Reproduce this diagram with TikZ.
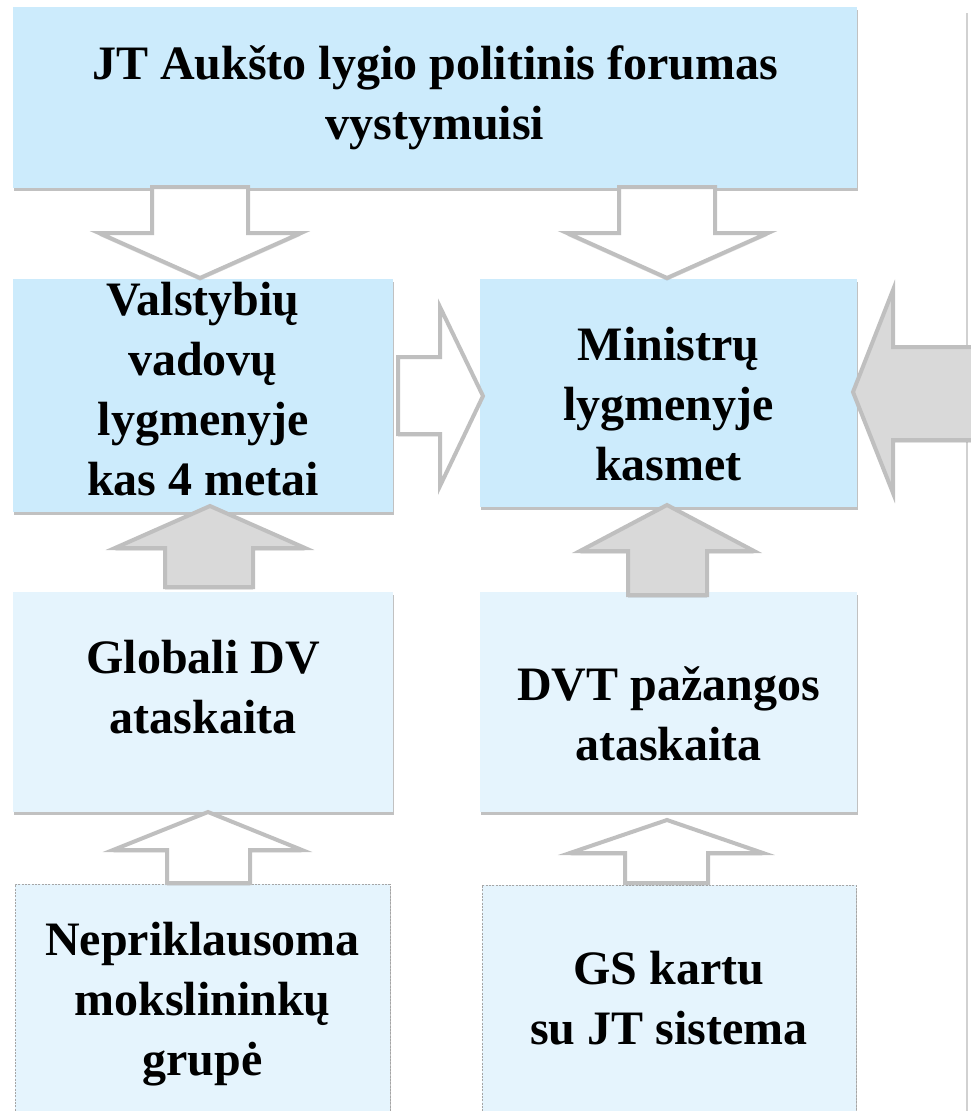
\documentclass[tikz,border=0pt]{standalone}
\usepackage{fontspec}
\setmainfont{Liberation Serif}
\usetikzlibrary{shadows}
\definecolor{boxA}{HTML}{CCEBFC}
\definecolor{boxB}{HTML}{E5F4FD}
\definecolor{arrline}{RGB}{191,191,191}
\definecolor{arrfill}{RGB}{217,217,217}
\tikzset{
  boxsize/.style 2 args={minimum width=#1*0.75pt, minimum height=#2*0.75pt},
  txt/.style={inner sep=0pt, align=center, font=\fontsize{36}{45}\selectfont\bfseries},
  boxbase/.style={inner sep=0pt,
    drop shadow={shadow xshift=0.5pt, shadow yshift=-2.5pt, opacity=0.35, fill=black!70}},
  darkbox/.style={boxbase, fill=boxA},
  lightbox/.style={boxbase, fill=boxB},
  dashbox/.style={boxbase, fill=boxB, draw=black!35, line width=0.5pt, dash pattern=on 1.5pt off 1pt},
  hollowarr/.style={draw=arrline, fill=white, line width=3pt, line join=miter,
    drop shadow={shadow xshift=0pt, shadow yshift=-2pt, opacity=0.2, fill=black!60}},
  filledarr/.style={draw=arrline, fill=arrfill, line width=3pt, line join=miter,
    drop shadow={shadow xshift=0pt, shadow yshift=-2pt, opacity=0.25, fill=black!60}},
}
\begin{document}
\begin{tikzpicture}[x=0.75pt,y=-0.75pt]
\useasboundingbox (0,0) rectangle (971,1111);
% right-hand panel (partly visible)
\fill[white, drop shadow={shadow xshift=-1.5pt, shadow yshift=-1pt, opacity=0.3, fill=black!60}] (968,12) rectangle (1010,1140);

% boxes
\node[darkbox, boxsize={844}{181}, label={[txt, yshift=0pt]center:{JT Aukšto lygio politinis forumas\\vystymuisi}}] (top) at (435,97.5) {};
\node[darkbox, boxsize={380}{233}, label={[txt, yshift=5pt]center:{Valstybių\\vadovų\\lygmenyje\\kas 4 metai}}] (val) at (203,395.5) {};
\node[darkbox, boxsize={377}{228}, label={[txt, yshift=-8pt]center:{Ministrų\\lygmenyje\\kasmet}}] (min) at (668.5,393) {};
\node[lightbox, boxsize={380}{220}, label={[txt, yshift=11pt]center:{Globali DV\\ataskaita}}] (glob) at (203,702) {};
\node[lightbox, boxsize={377}{220}, label={[txt, yshift=-9pt]center:{DVT pažangos\\ataskaita}}] (dvt) at (668.5,702) {};
\node[dashbox, boxsize={375}{232}, label={[txt, yshift=-3pt]center:{Nepriklausoma\\mokslininkų\\grupė}}] (nep) at (202.5,1000) {};
\node[dashbox, boxsize={374}{231}, label={[txt, yshift=2pt]center:{GS kartu\\su JT sistema}}] (gs) at (669,1000.5) {};

% block arrows
\draw[hollowarr] (152,187) -- (248,187) -- (248,233) -- (301,233) -- (200,278) -- (99,233) -- (152,233) -- cycle;
\draw[hollowarr] (619,187) -- (715,187) -- (715,233) -- (768,233) -- (667,278) -- (567,233) -- (619,233) -- cycle;
\draw[hollowarr] (398,357) -- (440,357) -- (440,307) -- (483,396) -- (440,486) -- (440,434) -- (398,434) -- cycle;
\draw[filledarr] (985,347) -- (893,347) -- (893,290) -- (853,392) -- (893,493) -- (893,440) -- (985,440) -- cycle;
\draw[filledarr] (165,587) -- (165,548) -- (115,548) -- (210,506) -- (305,548) -- (253,548) -- (253,587) -- cycle;
\draw[filledarr] (628,595) -- (628,551) -- (580,551) -- (667,505) -- (754,551) -- (707,551) -- (707,595) -- cycle;
\draw[hollowarr] (167,883) -- (167,850) -- (113,850) -- (208,812) -- (302,850) -- (250,850) -- (250,883) -- cycle;
\draw[hollowarr] (625,883) -- (625,853) -- (570,853) -- (667,820) -- (763,853) -- (708,853) -- (708,883) -- cycle;
\end{tikzpicture}
\end{document}
